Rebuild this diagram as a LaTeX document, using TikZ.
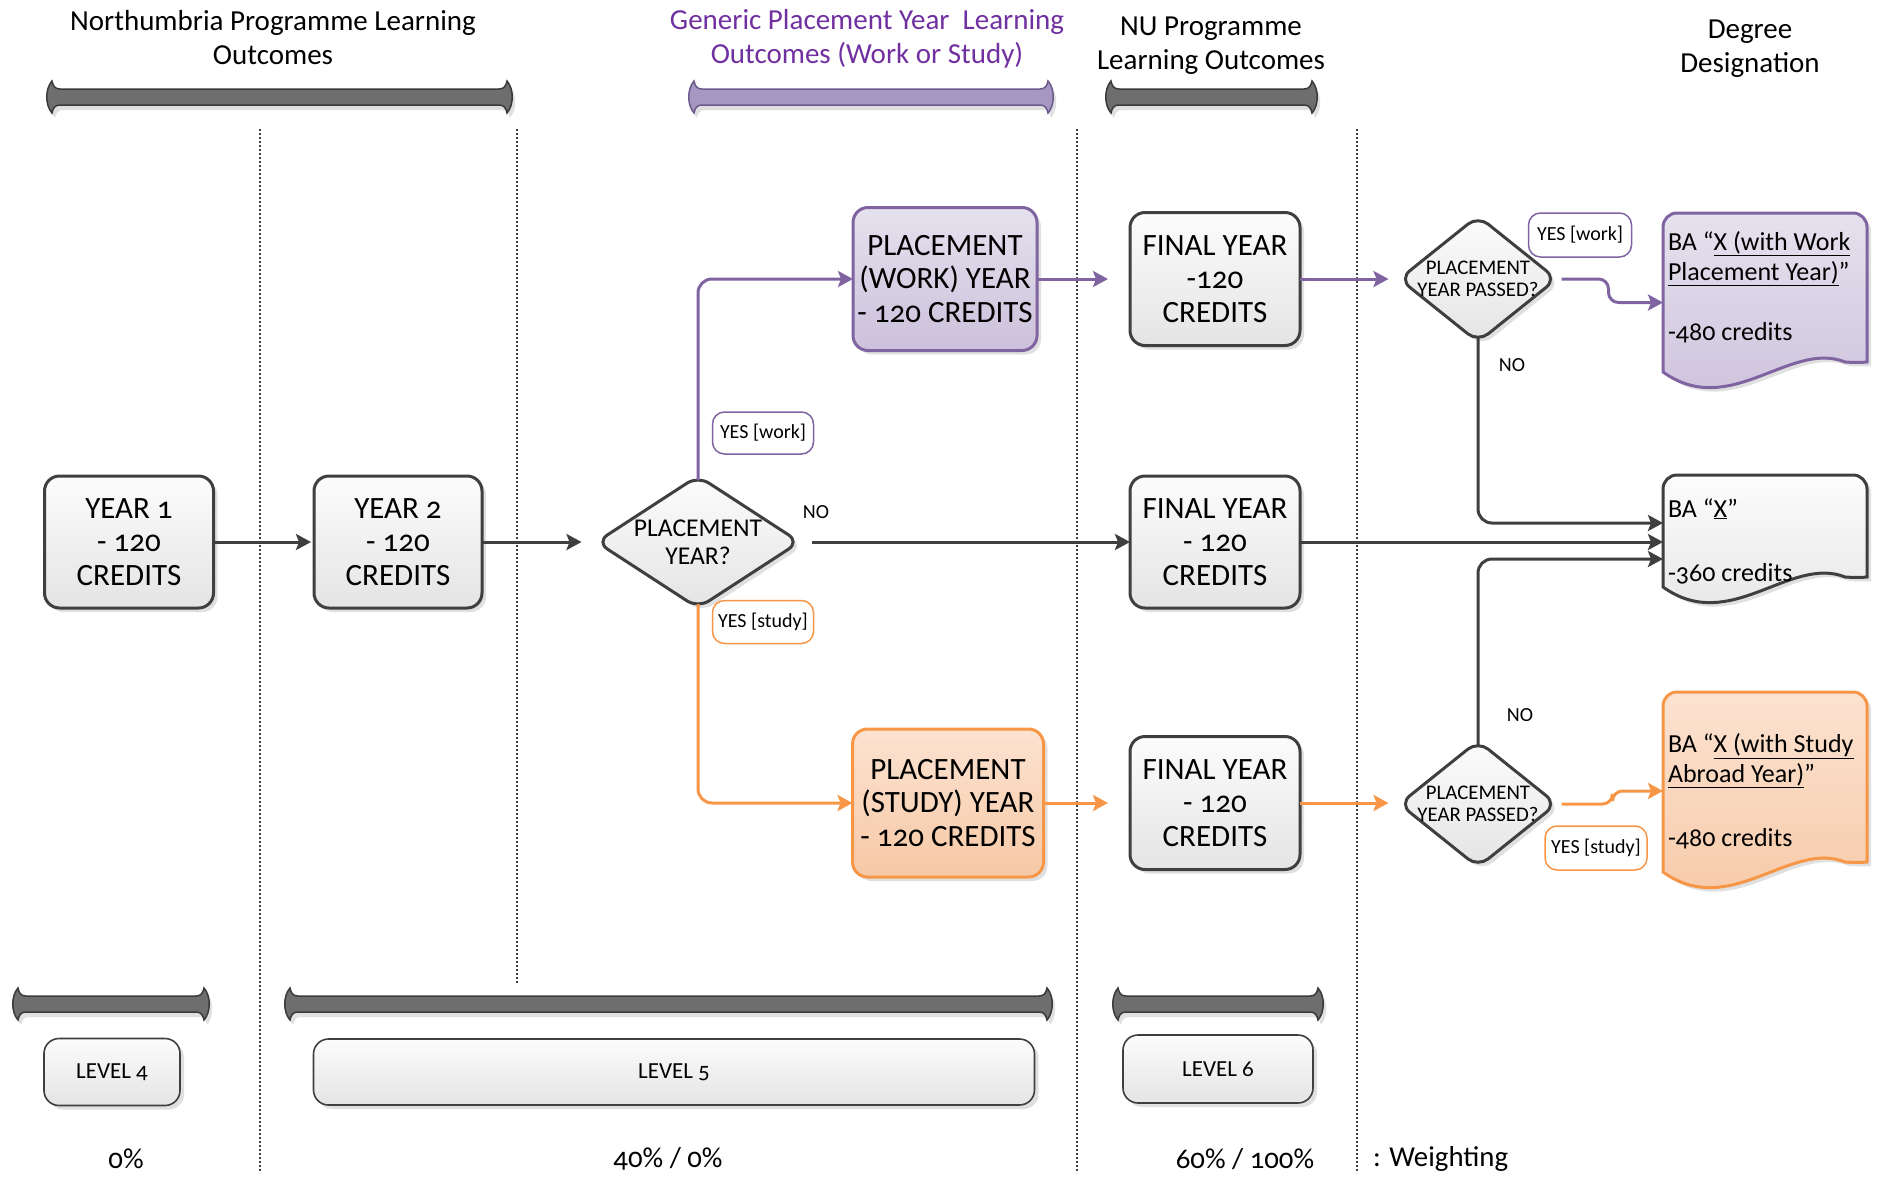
\documentclass[tikz,border=0pt]{standalone}
\usepackage{fontspec}
\setmainfont[Numbers=OldStyle]{Carlito}
\usetikzlibrary{shapes.geometric,arrows.meta,calc,shadows}

\definecolor{dk}{HTML}{3F3F3F}
\definecolor{pline}{HTML}{8064A2}
\definecolor{oline}{HTML}{F79646}
\definecolor{htxt}{HTML}{7030A0}
\definecolor{ptop}{HTML}{E6E1EE}
\definecolor{pbot}{HTML}{CBC1DB}
\definecolor{otop}{HTML}{FCE3D1}
\definecolor{obot}{HTML}{F6C8A5}
\definecolor{wtop}{HTML}{FCFCFC}
\definecolor{wbot}{HTML}{E4E4E4}
\definecolor{barfill}{HTML}{6E6E6E}
\definecolor{bardraw}{HTML}{3A3A3A}
\definecolor{pbarfill}{HTML}{A597C2}
\definecolor{pbardraw}{HTML}{6B5B8C}

\tikzset{
  every node/.style={inner sep=0pt, outer sep=0pt},
  shd/.style={drop shadow={shadow xshift=4pt,shadow yshift=-4pt,fill=black,opacity=0.12}},
  hdr/.style={align=center, font=\fontsize{29}{34}\selectfont},
  boxw/.style={draw=dk, line width=3pt, rounded corners=15pt, top color=wtop, bottom color=wbot,
    align=center, font=\fontsize{31}{33.5}\selectfont, shd},
  boxp/.style={boxw, draw=pline, top color=ptop, bottom color=pbot},
  boxo/.style={boxw, draw=oline, top color=otop, bottom color=obot},
  diamw/.style={diamond, draw=dk, line width=3pt, rounded corners=13pt, top color=wtop, bottom color=wbot, shd},
  dtxtA/.style={align=center, font=\fontsize{25.6}{28}\selectfont},
  dtxtB/.style={align=center, font=\fontsize{20.8}{22}\selectfont},
  lblp/.style={draw=pline, line width=1.5pt, rounded corners=12pt, fill=white, font=\fontsize{20}{22}\selectfont},
  lblo/.style={lblp, draw=oline},
  notxt/.style={font=\fontsize{20}{22}\selectfont},
  docarea/.style={rectangle, draw=none},
  doctxt/.style={anchor=west, align=left, font=\fontsize{26}{30}\selectfont},
  docw/.style={draw=dk, line width=3pt, top color=wtop, bottom color=wbot, shd},
  docp/.style={docw, draw=pline, top color=ptop, bottom color=pbot},
  doco/.style={docw, draw=oline, top color=otop, bottom color=obot},
  lvl/.style={draw=dk, line width=1.6pt, rounded corners=15pt, top color=wtop, bottom color=wbot,
    font=\fontsize{23}{26}\selectfont, shd},
  pct/.style={font=\fontsize{28.8}{32}\selectfont},
  vdot/.style={draw=black!75, line width=1.4pt, dash pattern=on 2pt off 2pt},
  arrowtip/.style={-{Stealth[length=15pt,width=16pt,inset=3pt]}},
  dkarrow/.style={draw=dk, line width=3pt, arrowtip},
  parrow/.style={draw=pline, line width=3pt, arrowtip},
  oarrow/.style={draw=oline, line width=3pt, arrowtip},
}

\newcommand\flbar[5]{%
  \fill[black!12, shift={(3,5)}] (#1+14,#3-8) .. controls (#1+9,#3-8) and (#1+7,#3-11) .. (#1+6,#3-16)
    .. controls (#1-1,#3-8) and (#1-1,#3+8) .. (#1+6,#3+16)
    .. controls (#1+7,#3+11) and (#1+9,#3+8) .. (#1+14,#3+8) -- (#2-14,#3+8)
    .. controls (#2-9,#3+8) and (#2-7,#3+11) .. (#2-6,#3+16)
    .. controls (#2+1,#3+8) and (#2+1,#3-8) .. (#2-6,#3-16)
    .. controls (#2-7,#3-11) and (#2-9,#3-8) .. (#2-14,#3-8) -- cycle;
  \filldraw[fill=#4, draw=#5, line width=1.5pt] (#1+14,#3-8) .. controls (#1+9,#3-8) and (#1+7,#3-11) .. (#1+6,#3-16)
    .. controls (#1-1,#3-8) and (#1-1,#3+8) .. (#1+6,#3+16)
    .. controls (#1+7,#3+11) and (#1+9,#3+8) .. (#1+14,#3+8) -- (#2-14,#3+8)
    .. controls (#2-9,#3+8) and (#2-7,#3+11) .. (#2-6,#3+16)
    .. controls (#2+1,#3+8) and (#2+1,#3-8) .. (#2-6,#3-16)
    .. controls (#2-7,#3-11) and (#2-9,#3-8) .. (#2-14,#3-8) -- cycle;
}

\newcommand\docshape[4]{%
  \draw[#1] (#2,#4+9) [rounded corners=14pt] -- (#2,#3) -- (#2+204,#3) -- (#2+204,#4-15) [sharp corners]
    .. controls (#2+204,#4-1) and (#2+196,#4) .. (#2+182,#4-1)
    .. controls (#2+127,#4-23) and (#2+67,#4+57) .. (#2,#4+9) -- cycle;
}

\begin{document}
\begin{tikzpicture}[x=1pt,y=-1pt]
\useasboundingbox (0,0) rectangle (1877,1178);

% dotted separators
\draw[vdot] (260,129) -- (260,1173);
\draw[vdot] (517,129) -- (517,983);
\draw[vdot] (1077,129) -- (1077,1173);
\draw[vdot] (1357,129) -- (1357,1173);

% headers
\node[hdr] (h1) at (273,38) {Northumbria Programme Learning\\Outcomes};
\node[hdr, text=htxt] (h2) at (867,39) {Generic Placement Year~ Learning\\Outcomes (Work or Study)};
\node[hdr] (h3) at (1211,46) {NU Programme\\Learning Outcomes};
\node[hdr] (h4) at (1750,49) {Degree\\Designation};

% bars
\flbar{46}{513}{97}{barfill}{bardraw}
\flbar{688}{1054}{97}{pbarfill}{pbardraw}
\flbar{1105}{1318}{97}{barfill}{bardraw}
\flbar{12}{210}{1004}{barfill}{bardraw}
\flbar{284}{1053}{1004}{barfill}{bardraw}
\flbar{1112}{1324}{1004}{barfill}{bardraw}

% main boxes
\node[boxw, minimum width=169pt, minimum height=132pt] (y1) at (129,542) {YEAR 1\\- 120\\CREDITS};
\node[boxw, minimum width=168pt, minimum height=132pt] (y2) at (398,542) {YEAR 2\\- 120\\CREDITS};
\node[boxp, minimum width=184pt, minimum height=143pt] (pw) at (945,279) {PLACEMENT\\(WORK) YEAR\\- 120 CREDITS};
\node[boxo, minimum width=191pt, minimum height=148pt] (ps) at (948,803) {PLACEMENT\\(STUDY) YEAR\\- 120 CREDITS};
\node[boxw, minimum width=170pt, minimum height=133pt] (ft) at (1215,279) {FINAL YEAR\\-120\\CREDITS};
\node[boxw, minimum width=170pt, minimum height=132pt] (fm) at (1215,542) {FINAL YEAR\\- 120\\CREDITS};
\node[boxw, minimum width=170pt, minimum height=133pt] (fb) at (1215,803) {FINAL YEAR\\- 120\\CREDITS};

% diamonds
\node[diamw, minimum width=203pt, minimum height=132pt] (pq) at (698,542) {};
\node[dtxtA] (pqt) at (698,542) {PLACEMENT\\YEAR?};
\node[diamw, minimum width=157pt, minimum height=126pt] (dt) at (1478,279) {};
\node[dtxtB] (dtt) at (1478,279) {PLACEMENT\\YEAR PASSED?};
\node[diamw, minimum width=157pt, minimum height=126pt] (db) at (1478,804) {};
\node[dtxtB] (dbt) at (1478,804) {PLACEMENT\\YEAR PASSED?};

% documents
\docshape{docp}{1663}{213}{363}
\docshape{docw}{1663}{475}{578}
\docshape{doco}{1663}{692}{863}
\node[docarea, minimum width=204pt, minimum height=179pt] (baw) at (1765,302.5) {};
\node[docarea, minimum width=204pt, minimum height=132pt] (bax) at (1765,541) {};
\node[docarea, minimum width=204pt, minimum height=200pt] (bas) at (1765,791) {};
\node[doctxt] (bawt) at (1668,287) {BA “\underline{X (with Work}\\\underline{Placement Year)}”\\[30pt]-480 credits};
\node[doctxt] (baxt) at (1668,541) {BA “\underline{X}”\\[34pt]-360 credits};
\node[doctxt] (bast) at (1668,791) {BA “\underline{X (with Study}\\\underline{Abroad Year)}”\\[34pt]-480 credits};

% labels
\node[lblp, minimum width=101pt, minimum height=42pt] (lw1) at (763,433) {YES [work]};
\node[lblo, minimum width=101pt, minimum height=43pt] (ls1) at (763,622) {YES [study]};
\node[lblp, minimum width=103pt, minimum height=44pt] (lw2) at (1580,235) {YES [work]};
\node[lblo, minimum width=102pt, minimum height=44pt] (ls2) at (1596,848) {YES [study]};
\node[notxt] (no1) at (816,512) {NO};
\node[notxt] (no2) at (1512,365) {NO};
\node[notxt] (no3) at (1520,715) {NO};

% connectors
\draw[dkarrow, shorten >=3pt] (y1.east) -- (y2.west);
\draw[dkarrow, shorten >=15pt] (y2.east) -- (pq.west);
\draw[parrow, rounded corners=14pt] ($(pq.north)+(0,4)$) |- (pw.west);
\draw[oarrow, rounded corners=14pt] ($(pq.south)+(0,-4)$) |- (ps.west);
\draw[dkarrow, shorten <=12pt] (pq.east) -- (fm.west);
\draw[parrow, shorten >=22pt] (pw.east) -- (pw.east -| ft.west);
\draw[oarrow, shorten >=22pt] (ps.east) -- (ps.east -| fb.west);
\draw[parrow, shorten >=11pt] (ft.east) -- (ft.east -| dt.west);
\draw[oarrow, shorten >=11pt] (fb.east) -- (fb.east -| db.west);
\draw[parrow, shorten <=5pt, rounded corners=10pt] (dt.east) -- ($(dt.east)+(52,0)$) |- (baw.west);
\draw[oarrow, shorten <=5pt, rounded corners=10pt] (db.east) -- ($(db.east)+(56,0)$) |- (bas.west);
\draw[dkarrow, rounded corners=14pt] ($(dt.south)+(0,-4)$) |- ($(bax.west)+(0,-18)$);
\draw[dkarrow] (fm.east) -- (fm.east -| bax.west);
\draw[dkarrow, rounded corners=14pt] ($(db.north)+(0,4)$) |- ($(bax.west)+(0,18)$);

% levels
\node[lvl, minimum width=136pt, minimum height=67pt] (l4) at (112,1072) {LEVEL 4};
\node[lvl, minimum width=721pt, minimum height=66pt] (l5) at (674,1072) {LEVEL 5};
\node[lvl, minimum width=190pt, minimum height=68pt] (l6) at (1218,1069) {LEVEL 6};

% weightings
\node[pct] (p4) at (126,1159) {0\%};
\node[pct] (p5) at (668,1159) {40\% / 0\%};
\node[pct] (p6) at (1245,1159) {60\% / 100\%};
\node[pct, anchor=west] (pwt) at (1373,1159) {: Weighting};
\end{tikzpicture}
\end{document}
